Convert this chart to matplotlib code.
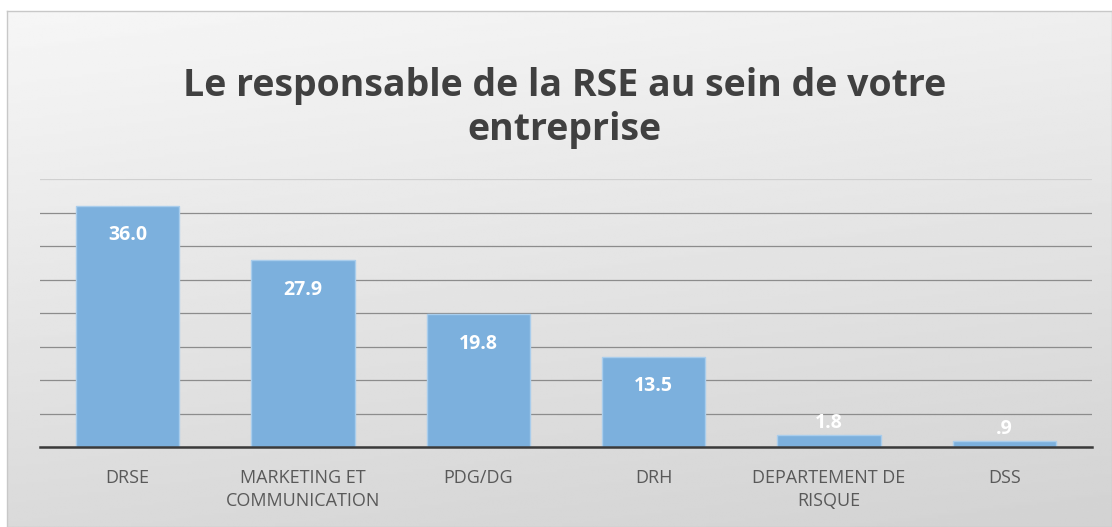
import numpy as np
import matplotlib.pyplot as plt

# Data
categories = ["DRSE", "MARKETING ET\nCOMMUNICATION", "PDG/DG", "DRH",
              "DEPARTEMENT DE\nRISQUE", "DSS"]
values = [36.0, 27.9, 19.8, 13.5, 1.8, 0.9]
value_labels = ["36.0", "27.9", "19.8", "13.5", "1.8", ".9"]
title = "Le responsable de la RSE au sein de votre\nentreprise"

plt.rcParams['font.family'] = ['Open Sans', 'DejaVu Sans']

fig = plt.figure(figsize=(11.12, 5.27), dpi=100)
fig.patch.set_facecolor("white")

# Background gradient for the chart area
bg = fig.add_axes([7 / 1112, 0, 1 - 7 / 1112, 1 - 11 / 527])
yy, xx = np.mgrid[0:1:200j, 0:1:200j]
grad = 0.965 - 0.11 * yy - 0.03 * xx
bg.imshow(grad, cmap="gray", vmin=0, vmax=1, aspect="auto",
          extent=[0, 1, 0, 1], origin="upper")
bg.set_xticks([])
bg.set_yticks([])
for s in bg.spines.values():
    s.set_color("#c8c8c8")
    s.set_linewidth(1.0)

# Title
fig.text(0.508, 1 - 67 / 527, title, ha="center", va="top", fontsize=27,
         fontweight="bold", color="#404040", linespacing=1.2)

ax = fig.add_axes([40 / 1112, 80 / 527, 1052 / 1112, 268 / 527])
ax.patch.set_alpha(0)
x = np.arange(len(categories))
bars = ax.bar(x, values, width=0.59, color="#7cb0dd", edgecolor="#a9cdec",
              linewidth=1.0, zorder=3)
ax.set_xlim(-0.5, len(categories) - 0.5)
ax.set_ylim(0, 40)
ax.set_yticks(np.arange(0, 41, 5))
ax.yaxis.grid(True, color="#8c8c8c", linewidth=0.9, zorder=0)
ax.get_ygridlines()[-1].set_color("#d0d0d0")
ax.tick_params(axis="y", left=False, labelleft=False)
ax.tick_params(axis="x", bottom=False, labelsize=13, labelcolor="#595959",
               pad=12)
ax.set_xticks(x)
ax.set_xticklabels(categories, linespacing=1.4)
for name in ["left", "right", "top"]:
    ax.spines[name].set_visible(False)
ax.spines["bottom"].set_color("#3a3a3a")
ax.spines["bottom"].set_linewidth(1.8)
ax.spines["bottom"].set_zorder(4)

for xi, v, lab in zip(x, values, value_labels):
    if v > 5:
        ax.text(xi, v - 4.4, lab, ha="center", va="center", fontsize=14,
                fontweight="bold", color="white", zorder=5)
    else:
        ax.text(xi, v + 1.8, lab, ha="center", va="center", fontsize=14,
                fontweight="bold", color="white", zorder=5)

fig.savefig("out.png", dpi=100)
